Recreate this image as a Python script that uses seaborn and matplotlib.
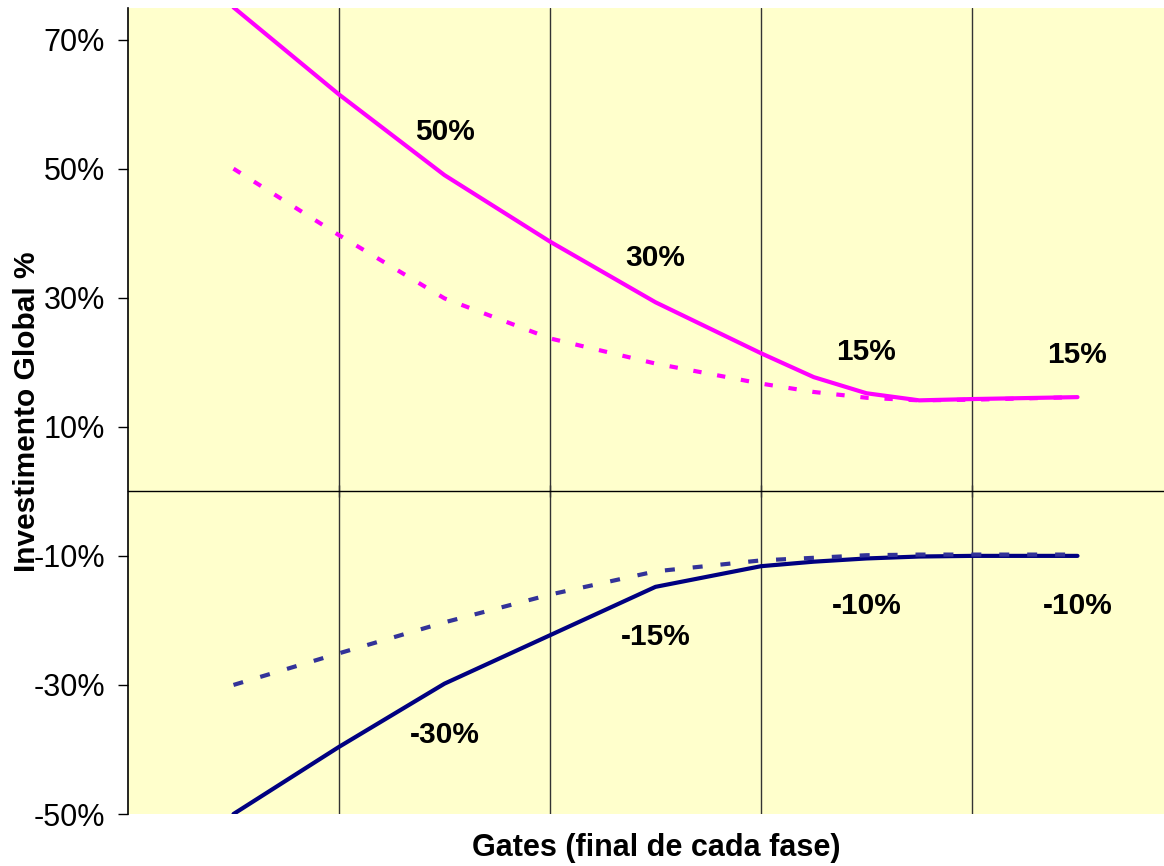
import seaborn as sns
import pandas as pd
import matplotlib.pyplot as plt

# posicao ao longo das fases (0..4 = centro de cada fase, .5 = gate)
pos = [0, 0.5, 1, 1.5, 2, 2.5, 2.75, 3, 3.25, 3.5, 4]

# investimento global (%)
sup_max = [75, 61.5, 49, 38.7, 29.3, 21.4, 17.7, 15.2, 14.1, 14.3, 14.6]
sup_min = [50, 39.7, 29.9, 23.7, 19.8, 16.7, 15.4, 14.5, 14.1, 14.2, 14.6]
inf_max = [-50, -39.6, -29.8, -22.3, -14.8, -11.6, -10.9, -10.4, -10.1, -10, -10]
inf_min = [-30, -25.1, -20.3, -16.0, -12.4, -10.7, -10.3, -9.9, -9.8, -9.8, -9.8]

fases = [0, 1, 2, 3, 4]
rot_sup = ["", "50%", "30%", "15%", "15%"]
rot_inf = ["", "-30%", "-15%", "-10%", "-10%"]

gates = [0.5, 1.5, 2.5, 3.5]
yticks = [-50, -30, -10, 10, 30, 50, 70]

df = pd.concat([
    pd.DataFrame({"pos": pos, "valor": sup_max, "serie": "sup_max"}),
    pd.DataFrame({"pos": pos, "valor": inf_max, "serie": "inf_max"}),
    pd.DataFrame({"pos": pos, "valor": sup_min, "serie": "sup_min"}),
    pd.DataFrame({"pos": pos, "valor": inf_min, "serie": "inf_min"}),
])

cores = {"sup_max": "#FF00FF", "sup_min": "#FF00FF", "inf_max": "#000080", "inf_min": "#333399"}
tracos = {"sup_max": "", "inf_max": "", "sup_min": (2, 3.8), "inf_min": (2.4, 4.3)}

sns.set_style("white")
plt.rcParams["font.family"] = ["Liberation Sans", "DejaVu Sans"]
plt.rcParams["text.color"] = "black"
plt.rcParams["xtick.color"] = "black"
plt.rcParams["ytick.color"] = "black"

fig = plt.figure(figsize=(11.64, 8.66), dpi=100)
ax = fig.add_axes([128 / 1164, 52 / 866, 1036 / 1164, 806 / 866])
ax.set_facecolor("#FFFFCC")

for g in gates:
    ax.axvline(g, color="#333333", lw=1, zorder=1)

sns.lineplot(data=df, x="pos", y="valor", hue="serie", style="serie",
             palette=cores, dashes=tracos, hue_order=list(cores), style_order=list(cores),
             lw=3, errorbar=None, legend=False, ax=ax, zorder=3)

lab_sup_y = [0, 55.7, 36.1, 21.6, 21.1]
lab_inf_y = [0, -37.8, -22.6, -17.8, -17.8]
for f, t, yy in zip(fases, rot_sup, lab_sup_y):
    if t:
        ax.text(f, yy, t, ha="center", va="center", fontsize=21.5, fontweight="bold")
for f, t, yy in zip(fases, rot_inf, lab_inf_y):
    if t:
        ax.text(f, yy, t, ha="center", va="center", fontsize=21.5, fontweight="bold")

ax.set_xlim(-0.5, 4.41)
ax.set_ylim(-50, 74.9)

ax.spines["top"].set_visible(False)
ax.spines["right"].set_visible(False)
ax.spines["bottom"].set_position(("data", 0))
ax.spines["bottom"].set_linewidth(1)
ax.spines["bottom"].set_color("black")
ax.spines["left"].set_linewidth(1.2)
ax.spines["left"].set_color("black")

ax.set_xticks(gates)
ax.set_xticklabels([])
ax.tick_params(axis="x", direction="inout", length=9, width=1, color="#333333", bottom=True)
ax.set_yticks(yticks)
ax.set_yticklabels([f"{v}%" for v in yticks])
ax.tick_params(axis="y", direction="out", length=7.5, width=1, color="black",
               left=True, pad=9, labelsize=22, labelcolor="black")
ax.set_xlabel("")
ax.set_ylabel("")

fig.text(27 / 1164, 1 - 412 / 866, "Investimento Global %", rotation=90,
         ha="center", va="center", fontsize=21.5, fontweight="bold")
fig.text(656 / 1164, 1 - 848 / 866, "Gates (final de cada fase)",
         ha="center", va="center", fontsize=22, fontweight="bold")

fig.savefig("out.png", dpi=100)
